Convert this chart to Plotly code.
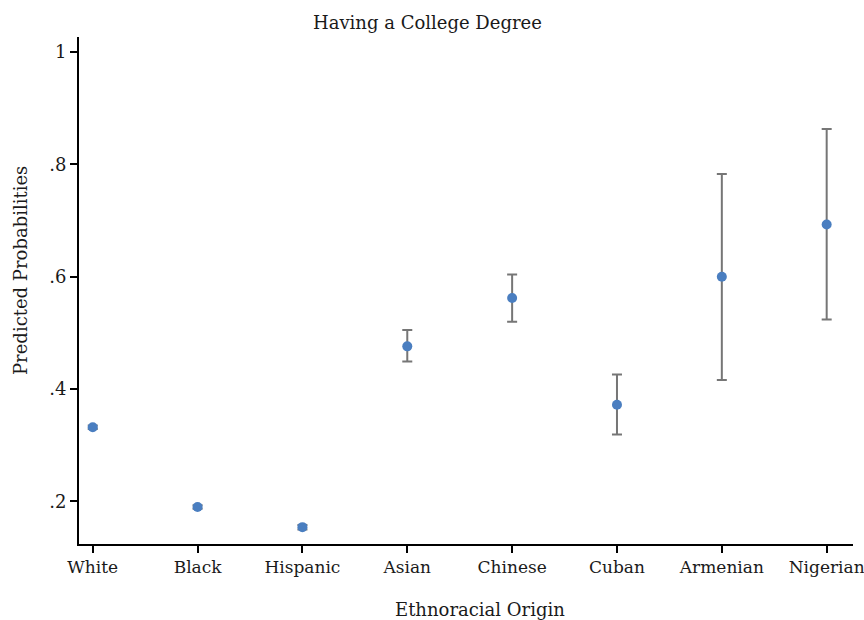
import plotly.graph_objects as go

# Predicted probability of holding a college degree, by ethnoracial origin
groups = ["White", "Black", "Hispanic", "Asian", "Chinese", "Cuban", "Armenian", "Nigerian"]
prob = [0.332, 0.190, 0.154, 0.476, 0.562, 0.372, 0.600, 0.693]
ci_low = [0.329, 0.187, 0.150, 0.449, 0.520, 0.319, 0.416, 0.524]
ci_high = [0.335, 0.193, 0.158, 0.505, 0.604, 0.426, 0.783, 0.863]
y_ticks = [0.2, 0.4, 0.6, 0.8, 1.0]
y_tick_text = [".2", ".4", ".6", ".8", "1"]

FONT = "DejaVu Serif"
W, H = 864, 620
L, R, T, B = 79, 11, 37, 76
pw, ph = W - L - R, H - T - B

xs = list(range(len(groups)))
fig = go.Figure()
fig.add_trace(go.Scatter(
    x=xs, y=prob, mode="markers",
    marker=dict(size=10, color="#4a7ec0"),
    error_y=dict(
        type="data", symmetric=False,
        array=[h - p for h, p in zip(ci_high, prob)],
        arrayminus=[p - l for p, l in zip(prob, ci_low)],
        color="#767676", thickness=2, width=5,
    ),
    showlegend=False,
))

def px_x(px):
    return (px - L) / pw

def px_y(py):
    return (H - B - py) / ph

annotations = [
    dict(text="Having a College Degree", x=px_x(427.5), y=px_y(22)),
    dict(text="Ethnoracial Origin", x=px_x(480), y=px_y(609)),
    dict(text="Predicted Probabilities", x=px_x(20), y=px_y(271), textangle=-90),
]
for a in annotations:
    a.update(xref="paper", yref="paper", showarrow=False,
             xanchor="center", yanchor="middle",
             font=dict(family=FONT, size=18, color="#1a1a1a"))

fig.update_layout(
    width=W, height=H,
    margin=dict(l=L, r=R, t=T, b=B, autoexpand=False),
    paper_bgcolor="white", plot_bgcolor="white",
    font=dict(family=FONT, size=18, color="#1a1a1a"),
    annotations=annotations,
    xaxis=dict(
        range=[-0.131, 7.251], tickvals=xs, ticktext=groups,
        showgrid=False, zeroline=False, showline=True,
        linecolor="black", linewidth=2,
        ticks="outside", ticklen=7, tickwidth=2, tickcolor="black",
        ticklabeloverflow="allow", tickfont=dict(size=17),
        automargin=False,
    ),
    yaxis=dict(
        range=[0.124, 1.027], tickvals=y_ticks, ticktext=y_tick_text,
        showgrid=False, zeroline=False, showline=True,
        linecolor="black", linewidth=2,
        ticks="outside", ticklen=7, tickwidth=2, tickcolor="black",
        tickfont=dict(size=18), automargin=False,
    ),
)

fig.write_html("out.html")
